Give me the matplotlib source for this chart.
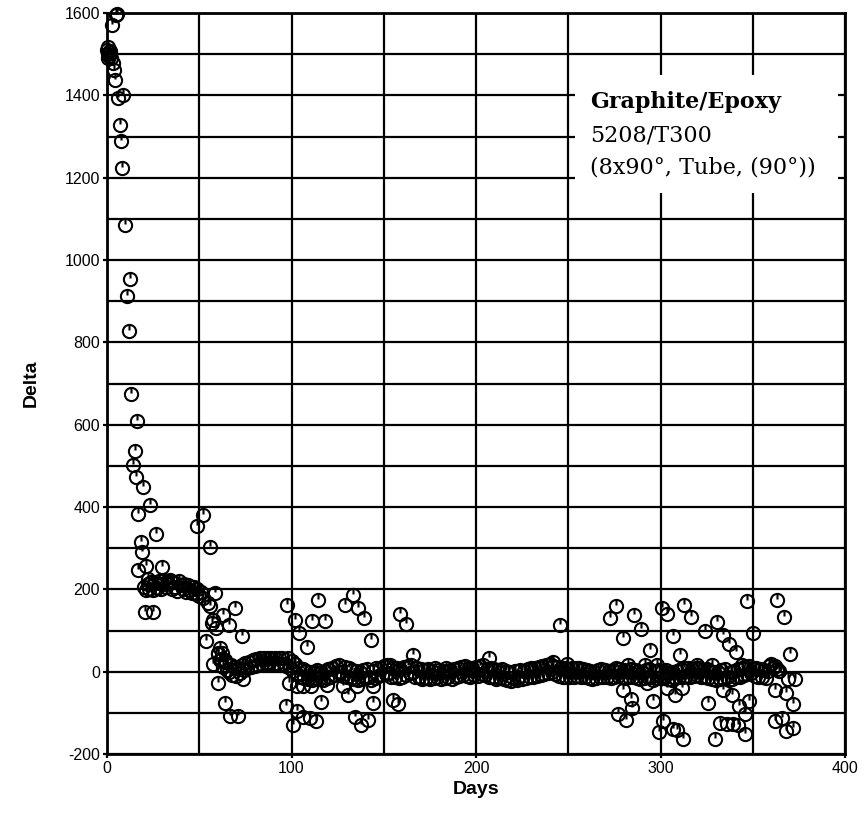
import matplotlib
matplotlib.use('Agg')
import matplotlib.pyplot as plt
from matplotlib.path import Path
from matplotlib.patches import Rectangle
from matplotlib.ticker import MultipleLocator

plt.rcParams['axes.unicode_minus'] = False

# early decay, days 0-52 (sparse points)
early_days = [0.0, 0.4, 0.8, 1.2, 1.6, 2.0, 0.3, 1.0,
              2.5, 4.7, 5.4,
              3.1, 3.8, 4.2, 6.1, 8.5, 7.0, 7.6, 8.3, 9.8, 12.5, 10.7, 11.9,
              13.0, 16.1, 15.2, 14.3, 15.7, 19.7, 23.3, 17.0, 26.6, 18.3, 18.8,
              29.6, 17.0, 21.1, 22.4, 20.6, 25.1,
              52.2, 48.9, 55.8]
early_delta = [1510, 1500, 1518, 1495, 1508, 1490, 1490, 1505,
               1570, 1596, 1598,
               1479, 1462, 1438, 1394, 1400, 1327, 1288, 1223, 1086, 954, 913, 827,
               675, 608, 535, 503, 474, 449, 405, 384, 335, 314, 290,
               254, 246, 257, 225, 144, 146,
               381, 353, 304]

# dense band, one reading per day
band1_days = list(range(20, 53))
band1_delta = [205, 198, 212, 202, 218, 198, 215, 204, 220, 200, 212, 222, 206,
               216, 222, 202, 218, 206, 196, 220, 210, 200, 214, 194, 210, 198,
               190, 206, 188, 200, 184, 194, 178]

band2_days = list(range(60, 365))
band2_delta = [
    42, 28, 30, 12, 24, 4, 0, 16, -8, 12, -10, 8, -4, 16, 4, 22, 8, 24, 12, 28,
    14, 30, 16, 32, 18, 34, 20, 34, 20, 34, 18, 34, 20, 32, 16, 34, 18, 14, 32, 10,
    26, 2, 18, -6, 10, -12, 6, -16, 2, -18, 0, -20, -2, -16, 4, -18, 0, -20, 2, -16,
    6, -12, 10, -8, 14, -2, 16, -2, -10, 12, -12, 8, -16, 4, -18, 2, -20, 0, -18, 4,
    -16, 6, -14, -20, 2, -16, 8, -10, 10, -8, 14, -6, 16, -4, -14, 10, -12, 8, -16, 6,
    -14, 12, -8, 14, -4, 16, -2, -12, 10, -14, 6, -18, 4, -16, 6, -18, 2, -16, 8, -14,
    4, -18, 2, -16, 8, -14, 4, -18, 6, -12, 10, -10, 12, -8, 14, -10, 8, -14, 10, -8,
    12, -10, 14, -6, 16, -8, 4, -14, 8, -14, 6, -18, 4, -16, 6, -18, 2, -20, 0, -22,
    -16, 2, -20, -14, 4, -18, 2, -16, 6, -14, 8, -12, 10, -10, 12, -8, 14, -6, 16, -4,
    18, -2, 14, -6, 12, -10, 10, -12, 8, -14, 6, -14, 8, -12, 10, -10, 8, -12, 6, -14,
    4, -16, 2, -18, 0, -16, 4, -14, 6, -12, 4, -14, 2, -16, 4, -12, 8, -10, 6, -14,
    4, -16, 2, -14, 6, -12, 4, -16, 2, -18, 0, -16, 4, -14, 6, -12, -20, 2, -16, 4,
    -14, 2, -16, 4, -18, 0, -20, -2, -16, 2, -14, 6, -12, 8, -10, 10, -12, 6, -10, 10,
    -8, 8, -14, 4, -12, 6, -16, 2, -18, 0, -20, -2, -18, 4, -16, 6, -14, -20, 0, -18,
    2, -14, 6, -12, 10, -8, 12, -6, 14, -4, 10, -10, 8, -12, 6, -14, 4, -16, 2, 14,
    18, 10, 14, 6, 2]

# scattered readings after day 53
scatter_days = [54.9, 55.8, 57.6, 56.7, 59.1, 63.0, 69.4, 66.3, 53.7, 73.0, 61.2,
                60.3, 57.6, 60.3, 64.0, 66.7, 71.2, 73.9, 58.5, 62.2, 64.0,
                97.7, 101.9, 104.2, 108.2, 114.5, 110.9, 118.2, 129.0, 133.2, 136.2,
                139.3, 142.9,
                97.0, 100.6, 103.1, 106.4, 110.0, 113.3, 116.0, 98.8, 102.8, 106.4,
                110.4, 119.4, 128.1, 130.8, 135.3, 134.4, 137.5, 141.6, 144.3, 144.3,
                158.8, 162.1, 165.7, 153.4, 154.8, 157.9, 207.2, 245.5, 241.6, 249.2,
                275.9, 272.6, 285.6, 289.3, 279.5, 294.3, 300.6, 303.7, 312.7, 316.4,
                306.9, 310.6, 324.1, 330.4, 333.7, 337.3, 340.9, 344.0, 346.7, 350.3,
                363.3, 366.9, 370.2,
                279.8, 283.8, 284.3, 277.1, 281.3, 295.8, 301.5, 299.3, 306.6, 308.8,
                312.0, 303.7, 307.9, 311.5, 325.9, 329.5, 332.2, 335.9, 339.5, 342.2,
                345.8, 342.7, 345.8, 348.1, 334.0, 338.6, 362.1, 365.7, 368.0, 372.0,
                371.6, 368.0, 362.1, 372.9, 369.3,
                282.5, 291.6, 297.9, 319.6, 327.7, 292.5]
scatter_delta = [167, 160, 126, 118, 106, 138, 155, 114, 74, 86, 58,
                 45, 19, -27, -76, -107, -107, -19, 191, 46, 29,
                 163, 126, 94, 60, 175, 122, 122, 163, 187, 155,
                 130, 76,
                 -83, -129, -96, -109, -112, -121, -74, -27, -36, -36,
                 -36, -32, -36, -56, -36, -109, -129, -117, -76, -36,
                 141, 117, 41, 17, -68, -78, 33, 114, 23, 19,
                 159, 130, 138, 104, 82, 53, 155, 141, 163, 133,
                 87, 41, 100, 120, 90, 68, 47, 17, 171, 95,
                 175, 133, 44,
                 -44, -66, -88, -102, -117, -72, -121, -147, -139, -141,
                 -163, -40, -56, -40, -76, -163, -125, -126, -126, -129,
                 -151, -84, -102, -72, -44, -56, -121, -112, -143, -137,
                 -78, -52, -44, -18, -19,
                 15, 15, 17, 17, 17, -27]

box_lines = ['Graphite/Epoxy', '5208/T300', '(8x90°, Tube, (90°))']

# circle with a short tick from the top, like the plotter symbol
tick = Path([[0, 1], [0, 0.15]], [Path.MOVETO, Path.LINETO])
symbol = Path.make_compound_path(Path.unit_circle(), tick)

fig = plt.figure(figsize=(8.68, 8.24), dpi=100)
ax = fig.add_axes([107 / 868, 1 - 754 / 824, 738 / 868, 741 / 824])

for xs, ys in [(early_days, early_delta), (band1_days, band1_delta),
               (band2_days, band2_delta), (scatter_days, scatter_delta)]:
    ax.plot(xs, ys, linestyle='none', marker=symbol, markersize=9.5,
            markerfacecolor='none', markeredgecolor='black', markeredgewidth=1.5,
            zorder=3, clip_on=False)

ax.set_xlim(0, 400)
ax.set_ylim(-200, 1600)
ax.xaxis.set_major_locator(MultipleLocator(100))
ax.xaxis.set_minor_locator(MultipleLocator(50))
ax.yaxis.set_major_locator(MultipleLocator(200))
ax.yaxis.set_minor_locator(MultipleLocator(100))
ax.grid(True, which='both', color='black', linewidth=1.6, zorder=1)
ax.set_axisbelow(True)
for s in ax.spines.values():
    s.set_linewidth(2)
ax.tick_params(which='major', direction='out', length=3, width=1.6, pad=2,
               labelsize=11.5)
ax.tick_params(which='minor', length=0)
for lab in ax.get_xticklabels() + ax.get_yticklabels():
    lab.set_family('Liberation Sans')

ax.set_xlabel('Days', fontsize=14, fontweight='bold', family='Liberation Sans', labelpad=4)
ax.set_ylabel('Delta', fontsize=14, fontweight='bold', family='Liberation Sans', labelpad=18)

ax.add_patch(Rectangle((0.634, 0.757), 0.356, 0.159, transform=ax.transAxes,
                       facecolor='white', edgecolor='none', zorder=4))
ax.text(0.654, 0.880, box_lines[0], transform=ax.transAxes, fontsize=16,
        fontweight='bold', family='DejaVu Serif', va='center', zorder=5)
ax.text(0.654, 0.835, box_lines[1], transform=ax.transAxes, fontsize=16,
        family='DejaVu Serif', va='center', zorder=5)
ax.text(0.654, 0.791, box_lines[2], transform=ax.transAxes, fontsize=16,
        family='DejaVu Serif', va='center', zorder=5)

fig.savefig('out.png', dpi=100)
